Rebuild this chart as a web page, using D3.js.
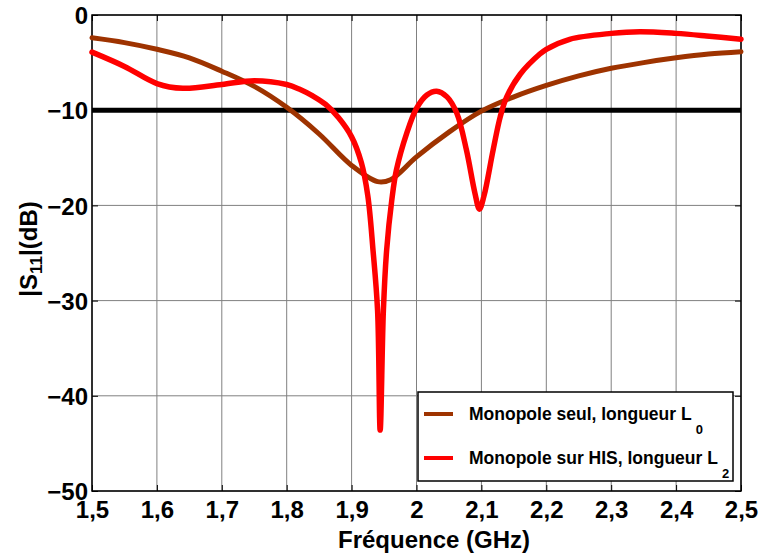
<!DOCTYPE html>
<html>
<head>
<meta charset="utf-8">
<script src="https://cdn.jsdelivr.net/npm/d3@7"></script>
<style>
body { margin: 0; background: #fff; }
svg { display: block; font-family: "Liberation Sans", Arial, sans-serif; font-weight: bold; }
</style>
</head>
<body>
<svg id="chart" width="763" height="555"></svg>
<script>
const xTicks = [1.5, 1.6, 1.7, 1.8, 1.9, 2.0, 2.1, 2.2, 2.3, 2.4, 2.5];
const yTicks = [0, -10, -20, -30, -40, -50];
const threshold = -10;

const freqL0 = [1.50, 1.55, 1.60, 1.65, 1.70, 1.75, 1.80, 1.85, 1.90, 1.94, 1.96, 2.00, 2.05, 2.10, 2.15, 2.20, 2.25, 2.30, 2.35, 2.40, 2.45, 2.50];
const s11L0  = [-2.4, -2.9, -3.6, -4.5, -5.9, -7.5, -9.7, -12.5, -15.8, -17.5, -17.3, -14.9, -12.3, -10.1, -8.6, -7.4, -6.4, -5.6, -5.0, -4.5, -4.1, -3.85];

const freqL2 = [1.50, 1.55, 1.60, 1.64, 1.70, 1.75, 1.80, 1.82, 1.84, 1.86, 1.88, 1.90, 1.915, 1.925, 1.933, 1.940, 1.944, 1.949, 1.954, 1.962, 1.969, 1.985, 2.000, 2.016, 2.031, 2.047, 2.062, 2.077, 2.090, 2.097, 2.104, 2.118, 2.129, 2.139, 2.160, 2.190, 2.200, 2.236, 2.300, 2.344, 2.400, 2.447, 2.500];
const s11L2  = [-3.9, -5.4, -7.2, -7.7, -7.3, -6.9, -7.3, -7.8, -8.5, -9.4, -10.8, -12.8, -15.5, -19.0, -24.7, -31.0, -43.6, -31.0, -24.7, -19.4, -16.3, -12.4, -9.8, -8.4, -8.0, -8.6, -10.3, -14.2, -18.7, -20.4, -19.0, -14.2, -10.7, -8.6, -6.2, -4.1, -3.6, -2.55, -1.93, -1.75, -1.93, -2.2, -2.55];

const legendLabels = [["Monopole seul, longueur L", "0"], ["Monopole sur HIS, longueur L", "2"]];
const colors = ["#9e3300", "#ff0000"];

const svg = d3.select("#chart");
const pL = 92, pR = 741, pT = 15, pB = 491;
const x = d3.scaleLinear().domain([1.5, 2.5]).range([pL, pR]);
const y = d3.scaleLinear().domain([-50, 0]).range([pB, pT]);
const fmt = v => (Math.round(v * 10) / 10).toString().replace(".", ",");

// grid
const g = svg.append("g");
g.selectAll(".vg").data(xTicks).join("line")
  .attr("x1", d => x(d)).attr("x2", d => x(d)).attr("y1", pT).attr("y2", pB)
  .attr("stroke", "#808080").attr("stroke-width", 1);
g.selectAll(".hg").data(yTicks).join("line")
  .attr("y1", d => y(d)).attr("y2", d => y(d)).attr("x1", pL).attr("x2", pR)
  .attr("stroke", "#808080").attr("stroke-width", 1);

// axes (frame ticks)
const xAxB = d3.axisBottom(x).tickValues(xTicks).tickSize(-6).tickFormat(fmt);
const xAxT = d3.axisTop(x).tickValues(xTicks).tickSize(-6).tickFormat("");
const yAxL = d3.axisLeft(y).tickValues(yTicks).tickSize(-6).tickFormat(d3.format("d"));
const yAxR = d3.axisRight(y).tickValues(yTicks).tickSize(-6).tickFormat("");

const ax1 = svg.append("g").attr("transform", `translate(0,${pB})`).call(xAxB);
ax1.selectAll("text").attr("dy", "0").attr("y", 27).style("font-size", "24px").style("font-family", "Liberation Sans, Arial, sans-serif").style("font-weight", "bold").attr("fill", "#000");
const ax2 = svg.append("g").attr("transform", `translate(0,${pT})`).call(xAxT);
const ax3 = svg.append("g").attr("transform", `translate(${pL},0)`).call(yAxL);
ax3.selectAll("text").attr("x", -4).attr("dy", "0.36em").style("font-size", "24px").style("font-family", "Liberation Sans, Arial, sans-serif").style("font-weight", "bold").attr("fill", "#000");
const ax4 = svg.append("g").attr("transform", `translate(${pR},0)`).call(yAxR);
[ax1, ax2, ax3, ax4].forEach(a => {
  a.select(".domain").remove();
  a.selectAll("line").attr("stroke", "#000");
});
svg.append("rect").attr("x", pL).attr("y", pT).attr("width", pR - pL).attr("height", pB - pT)
  .attr("fill", "none").attr("stroke", "#000").attr("stroke-width", 1.5);

// threshold line
svg.append("line").attr("x1", pL).attr("x2", pR).attr("y1", y(threshold)).attr("y2", y(threshold))
  .attr("stroke", "#000").attr("stroke-width", 5);

// curves
const line = d3.line().x(d => x(d[0])).y(d => y(d[1])).curve(d3.curveCatmullRom.alpha(0.5));
const series = [d3.zip(freqL0, s11L0), d3.zip(freqL2, s11L2)];
series.forEach((s, i) => {
  svg.append("path").datum(s).attr("d", line).attr("fill", "none")
    .attr("stroke", colors[i]).attr("stroke-width", i === 0 ? 5 : 5.5)
    .attr("stroke-linecap", "round").attr("stroke-linejoin", "round");
});

// legend
const lg = svg.append("g");
lg.append("rect").attr("x", 418).attr("y", 392).attr("width", 315).attr("height", 89)
  .attr("fill", "#fff").attr("stroke", "#000").attr("stroke-width", 1.5);
legendLabels.forEach((lab, i) => {
  const cy = 414 + i * 44;
  lg.append("line").attr("x1", 424).attr("x2", 453).attr("y1", cy).attr("y2", cy)
    .attr("stroke", colors[i]).attr("stroke-width", 4);
  const t = lg.append("text").attr("x", 469).attr("y", cy + 6).style("font-size", "17.5px").attr("fill", "#000");
  t.append("tspan").text(lab[0]);
  t.append("tspan").attr("dx", 4).attr("dy", 14).style("font-size", "13px").text(lab[1]);
});

// axis titles
svg.append("text").attr("x", 434).attr("y", 548).attr("text-anchor", "middle")
  .style("font-size", "24px").text("Fréquence (GHz)");
const yl = svg.append("text").attr("transform", "translate(37,249) rotate(-90)").attr("text-anchor", "middle")
  .style("font-size", "24px");
yl.append("tspan").text("|S");
yl.append("tspan").attr("dy", 5).style("font-size", "17px").text("11");
yl.append("tspan").attr("dy", -5).text("|(dB)");
</script>
</body>
</html>
